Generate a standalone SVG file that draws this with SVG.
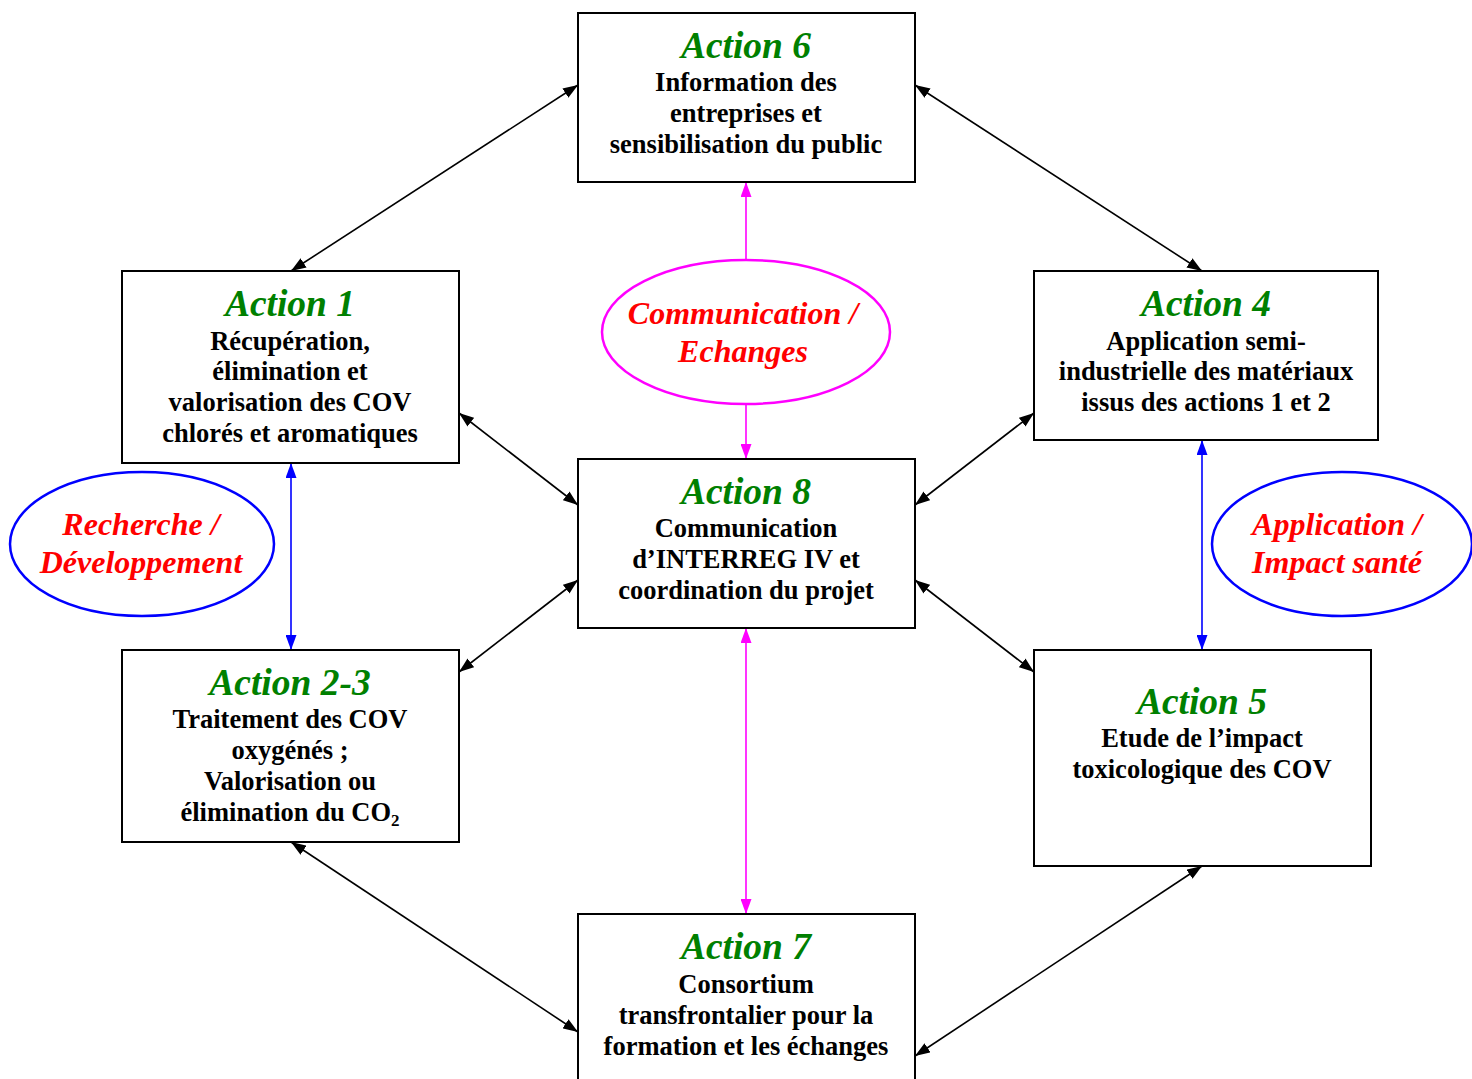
<svg xmlns="http://www.w3.org/2000/svg" width="1472" height="1079" viewBox="0 0 1472 1079">
<style>
.box{fill:#fff;stroke:#000;stroke-width:2}
.ell{fill:none;stroke-width:2.5}
.t{font-family:"Liberation Serif","Times New Roman",serif;font-weight:bold;font-style:italic;font-size:37.5px;fill:#008000;text-anchor:middle}
.b{font-family:"Liberation Serif","Times New Roman",serif;font-weight:bold;font-size:26.5px;fill:#000;text-anchor:middle}
.e{font-family:"Liberation Serif","Times New Roman",serif;font-weight:bold;font-style:italic;font-size:32px;fill:#ff0000;text-anchor:middle}
.k{stroke:#000;stroke-width:1.6;fill:none}
.m{stroke:#ff00ff;stroke-width:1.6;fill:none}
.u{stroke:#0000ff;stroke-width:1.6;fill:none}
</style>
<defs>
<marker id="ak" viewBox="0 0 15 11" refX="15" refY="5.5" markerWidth="15" markerHeight="11" markerUnits="userSpaceOnUse" orient="auto-start-reverse"><path d="M0,0 L15,5.5 L0,11 z" fill="#000"/></marker>
<marker id="am" viewBox="0 0 15 11" refX="15" refY="5.5" markerWidth="15" markerHeight="11" markerUnits="userSpaceOnUse" orient="auto-start-reverse"><path d="M0,0 L15,5.5 L0,11 z" fill="#ff00ff"/></marker>
<marker id="au" viewBox="0 0 15 11" refX="15" refY="5.5" markerWidth="15" markerHeight="11" markerUnits="userSpaceOnUse" orient="auto-start-reverse"><path d="M0,0 L15,5.5 L0,11 z" fill="#0000ff"/></marker>
</defs>
<rect width="1472" height="1079" fill="#fff"/>
<g id="connectors">
<line class="k" x1="578" y1="85" x2="291" y2="271" marker-start="url(#ak)" marker-end="url(#ak)"/>
<line class="k" x1="915" y1="85" x2="1202" y2="271" marker-start="url(#ak)" marker-end="url(#ak)"/>
<line class="k" x1="459" y1="413" x2="578" y2="505" marker-start="url(#ak)" marker-end="url(#ak)"/>
<line class="k" x1="578" y1="580" x2="459" y2="672" marker-start="url(#ak)" marker-end="url(#ak)"/>
<line class="k" x1="1034" y1="413" x2="915" y2="505" marker-start="url(#ak)" marker-end="url(#ak)"/>
<line class="k" x1="915" y1="580" x2="1034" y2="672" marker-start="url(#ak)" marker-end="url(#ak)"/>
<line class="k" x1="291" y1="842" x2="578" y2="1032" marker-start="url(#ak)" marker-end="url(#ak)"/>
<line class="k" x1="1202" y1="866" x2="915" y2="1056" marker-start="url(#ak)" marker-end="url(#ak)"/>
<line class="m" x1="746" y1="260" x2="746" y2="182" marker-end="url(#am)"/>
<line class="m" x1="746" y1="404" x2="746" y2="459" marker-end="url(#am)"/>
<line class="m" x1="746" y1="628" x2="746" y2="914" marker-start="url(#am)" marker-end="url(#am)"/>
<line class="u" x1="291" y1="463" x2="291" y2="650" marker-start="url(#au)" marker-end="url(#au)"/>
<line class="u" x1="1202" y1="440" x2="1202" y2="650" marker-start="url(#au)" marker-end="url(#au)"/>
</g>
<g id="action6">
<rect class="box" x="578" y="13" width="337" height="169"/>
<text class="t" x="746" y="58">Action 6</text>
<text class="b" x="746" y="91">Information des</text>
<text class="b" x="746" y="122">entreprises et</text>
<text class="b" x="746" y="153">sensibilisation du public</text>
</g>
<g id="action1">
<rect class="box" x="122" y="271" width="337" height="192"/>
<text class="t" x="290" y="316">Action 1</text>
<text class="b" x="290" y="350">Récupération,</text>
<text class="b" x="290" y="380">élimination et</text>
<text class="b" x="290" y="411">valorisation des COV</text>
<text class="b" x="290" y="442">chlorés et aromatiques</text>
</g>
<g id="action4">
<rect class="box" x="1034" y="271" width="344" height="169"/>
<text class="t" x="1206" y="316">Action 4</text>
<text class="b" x="1206" y="350">Application semi-</text>
<text class="b" x="1206" y="380">industrielle des matériaux</text>
<text class="b" x="1206" y="411">issus des actions 1 et 2</text>
</g>
<g id="action8">
<rect class="box" x="578" y="459" width="337" height="169"/>
<text class="t" x="746" y="504">Action 8</text>
<text class="b" x="746" y="537">Communication</text>
<text class="b" x="746" y="568">d’INTERREG IV et</text>
<text class="b" x="746" y="599">coordination du projet</text>
</g>
<g id="action23">
<rect class="box" x="122" y="650" width="337" height="192"/>
<text class="t" x="290" y="695">Action 2-3</text>
<text class="b" x="290" y="728">Traitement des COV</text>
<text class="b" x="290" y="759">oxygénés ;</text>
<text class="b" x="290" y="790">Valorisation ou</text>
<text class="b" x="290" y="821">élimination du CO<tspan font-size="17" dy="5">2</tspan></text>
</g>
<g id="action5">
<rect class="box" x="1034" y="650" width="337" height="216"/>
<text class="t" x="1202" y="714">Action 5</text>
<text class="b" x="1202" y="747">Etude de l’impact</text>
<text class="b" x="1202" y="778">toxicologique des COV</text>
</g>
<g id="action7">
<rect class="box" x="578" y="914" width="337" height="180"/>
<text class="t" x="746" y="959">Action 7</text>
<text class="b" x="746" y="993">Consortium</text>
<text class="b" x="746" y="1024">transfrontalier pour la</text>
<text class="b" x="746" y="1055">formation et les échanges</text>
</g>
<g id="communication">
<ellipse class="ell" stroke="#ff00ff" cx="746" cy="332" rx="144" ry="72"/>
<text class="e" x="743" y="324">Communication /</text>
<text class="e" x="743" y="362">Echanges</text>
</g>
<g id="recherche">
<ellipse class="ell" stroke="#0000ff" cx="142" cy="544" rx="132" ry="72"/>
<text class="e" x="141" y="535">Recherche /</text>
<text class="e" x="141" y="573">Développement</text>
</g>
<g id="application">
<ellipse class="ell" stroke="#0000ff" cx="1342" cy="544" rx="130" ry="72"/>
<text class="e" x="1337" y="535">Application /</text>
<text class="e" x="1337" y="573">Impact santé</text>
</g>
</svg>
